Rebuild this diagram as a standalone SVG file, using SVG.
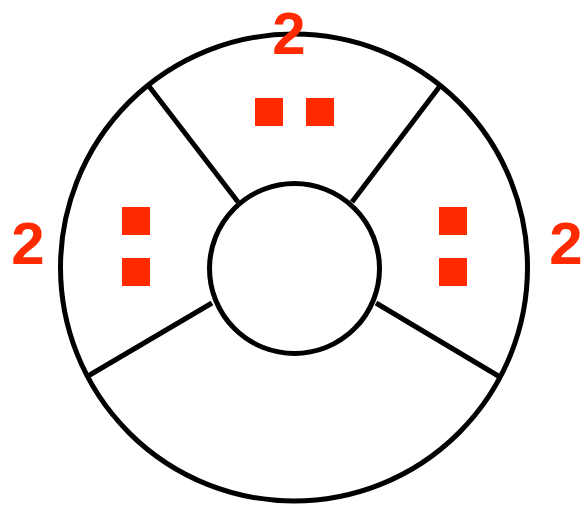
<svg xmlns="http://www.w3.org/2000/svg" width="584" height="505" viewBox="0 0 584 505">
<style>
.ring{fill:none;stroke:#000;stroke-width:5}
.conn line{stroke:#000;stroke-width:5}
.sq{fill:#ff2a00}
.num{fill:#ff2a00;font-family:"Liberation Sans",Arial,sans-serif;font-weight:bold;font-size:60px;text-anchor:middle}
</style>
<rect width="584" height="505" fill="#fff"/>
<g class="conn" id="connectors">
<line x1="238" y1="202" x2="148" y2="85"/>
<line x1="352" y1="202" x2="440" y2="86"/>
<line x1="212" y1="303" x2="88" y2="376"/>
<line x1="376" y1="303" x2="500" y2="377"/>
</g>
<g id="outer"><circle class="ring" cx="294" cy="267.5" r="233.5"/></g>
<g id="inner"><circle class="ring" cx="294.5" cy="268.5" r="85" fill="#fff"/></g>
<g id="top-marks">
<rect class="sq" x="255" y="98" width="28" height="28"/>
<rect class="sq" x="306" y="98" width="28" height="28"/>
</g>
<g id="left-marks">
<rect class="sq" x="122" y="207" width="28" height="28"/>
<rect class="sq" x="122" y="258" width="28" height="28"/>
</g>
<g id="right-marks">
<rect class="sq" x="439" y="207" width="28" height="28"/>
<rect class="sq" x="439" y="258" width="28" height="28"/>
</g>
<g id="labels">
<text class="num" x="289" y="54">2</text>
<text class="num" x="28" y="264">2</text>
<text class="num" x="566" y="264">2</text>
</g>
</svg>
